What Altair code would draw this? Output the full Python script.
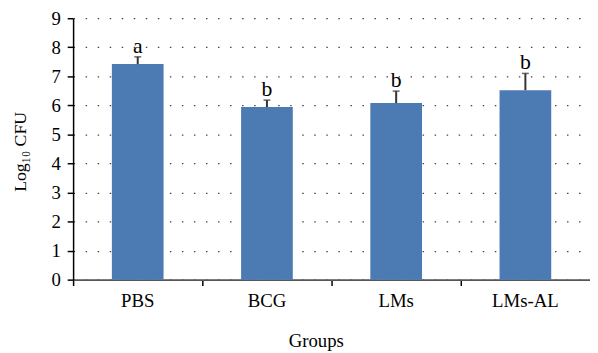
import altair as alt
import pandas as pd

groups = ["PBS", "BCG", "LMs", "LMs-AL"]
means = [7.42, 5.94, 6.08, 6.52]
errors = [0.25, 0.24, 0.41, 0.58]
letters = ["a", "b", "b", "b"]
y_ticks = list(range(10))

df = pd.DataFrame({"group": groups, "mean": means, "err": errors, "letter": letters})
df["top"] = df["mean"] + df["err"]

FONT = "Liberation Serif"
YTITLE = "Log\u2081\u2080 CFU"

x_enc = alt.X(
    "group:N",
    sort=groups,
    scale=alt.Scale(paddingInner=0, paddingOuter=0),
    axis=alt.Axis(
        title="Groups",
        bandPosition=0,
        labelAngle=0,
        grid=False,
        domainColor="#555555",
        domainWidth=2,
        tickColor="black",
        tickWidth=1.5,
        tickSize=6,
        labelFont=FONT,
        labelFontSize=19,
        labelColor="black",
        labelPadding=6,
        titleFont=FONT,
        titleFontSize=19,
        titleFontWeight="normal",
        titleColor="black",
        titleX=246,
        titleY=68,
        titleBaseline="alphabetic",
    ),
)

y_axis = alt.Axis(
    title=YTITLE,
    values=y_ticks,
    tickCount=10,
    labelOverlap=False,
    grid=True,
    gridDash=[1.5, 10.7],
    gridColor="#444444",
    gridWidth=1.3,
    domainColor="black",
    domainWidth=1.5,
    tickColor="black",
    tickWidth=1.5,
    tickSize=6,
    labelFont=FONT,
    labelFontSize=19,
    labelColor="black",
    labelPadding=7,
    titleFont=FONT,
    titleFontSize=18,
    titleFontWeight="normal",
    titleColor="black",
    titleX=-48,
    titleY=135,
    titleBaseline="alphabetic",
)
y_scale = alt.Scale(domain=[0, 9], nice=False)

base = alt.Chart(df)

bars = base.mark_bar(width=alt.RelativeBandSize(0.4), color="#4C7BB4").encode(
    x=x_enc,
    y=alt.Y("mean:Q", scale=y_scale, axis=y_axis),
)

rules = base.mark_rule(color="#333333", strokeWidth=2).encode(
    x=x_enc,
    y=alt.Y("mean:Q", scale=y_scale, axis=y_axis),
    y2="top:Q",
)

caps = base.mark_tick(color="#333333", size=7, thickness=1.6).encode(
    x=x_enc,
    y=alt.Y("top:Q", scale=y_scale, axis=y_axis),
)

labels = base.mark_text(
    dy=-4, baseline="alphabetic", fontSize=22, font=FONT, color="black"
).encode(
    x=x_enc,
    y=alt.Y("top:Q", scale=y_scale, axis=y_axis),
    text="letter:N",
)

chart = (
    alt.layer(bars, rules, caps, labels)
    .properties(
        width=524,
        height=265,
        padding={"left": 66, "top": 8, "right": 0, "bottom": 72},
        autosize=alt.AutoSizeParams(type="none"),
    )
    .configure_view(stroke=None)
)

chart.save("out.html", embed_options={"renderer": "svg", "actions": False})
